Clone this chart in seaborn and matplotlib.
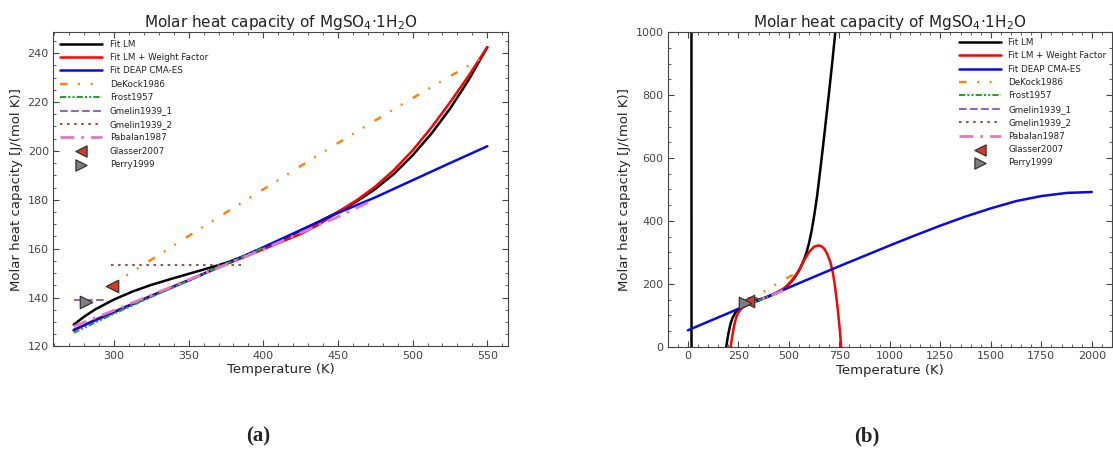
import matplotlib
matplotlib.use("Agg")
import matplotlib.pyplot as plt
from matplotlib.ticker import AutoMinorLocator, MultipleLocator
import numpy as np
import pandas as pd
import seaborn as sns

# ---------------- data ----------------
# Fit LM (Levenberg-Marquardt)
lm_T = [17, 19, 100, 185, 190, 200, 210, 220, 235, 250, 262, 273, 280, 287.5, 300,
        312.5, 325, 337.5, 350, 362.5, 375, 387.5, 400, 412.5, 425, 437.5, 450,
        462.5, 475, 487.5, 500, 512.5, 525, 537.5, 550, 562.5, 575, 587.5, 600,
        612.5, 625, 640, 655, 670, 685, 700, 715, 730, 745]
lm_cp = [3000, -3000, -700, -25, 0, 40, 70, 90, 108, 119, 124.5, 128.9, 132.2, 135.2,
         139.2, 142.5, 145.2, 147.5, 149.7, 151.9, 154.2, 157.0, 160.3, 163.8, 167.4,
         171.1, 175.0, 179.3, 184.4, 190.6, 198.2, 207.0, 217.2, 229.0, 242.4, 258.5,
         277, 300, 330, 368, 415, 480, 560, 642, 728, 815, 905, 1000, 1095]

# Fit LM + weight factor
lmw_T = [205, 212, 220, 230, 240, 250, 262, 273, 287.5, 300, 325, 350, 375, 400, 425,
         437.5, 450, 462.5, 475, 487.5, 500, 512.5, 525, 537.5, 550, 575, 600, 625,
         645, 660, 675, 690, 705, 718, 730, 742, 752, 760, 765]
lmw_cp = [-30, 0, 35, 70, 95, 108, 119, 126.5, 131.0, 134.2, 140.8, 147.2, 153.6,
          159.8, 166.0, 170.0, 175.0, 179.8, 185.4, 192.2, 200.2, 209.5, 219.8, 230.7,
          242.4, 274, 301, 318, 322, 320, 312, 295, 270, 235, 185, 120, 55, -10, -60]

# Fit DEAP CMA-ES
cma_T = [0, 100, 200, 273, 300, 325, 350, 375, 400, 425, 450, 475, 500, 525, 550,
         650, 750, 875, 1000, 1125, 1250, 1375, 1500, 1625, 1750, 1875, 2000]
cma_cp = [52, 79.5, 106.5, 126.8, 134.0, 140.6, 147.0, 153.8, 160.6, 167.6, 174.6,
          181.0, 188.0, 195.0, 201.9, 229, 256, 289, 322, 354, 385, 414, 440, 463,
          479, 489, 492]

# literature data
dekock_T = [298, 325, 350, 375, 400, 425, 450, 475, 500, 525, 545]
dekock_cp = [145.0, 155.5, 165.2, 174.8, 184.3, 193.8, 203.2, 212.5, 221.6, 230.5, 237.5]

frost_T = [273, 300, 325, 350, 375, 400]
frost_cp = [125.6, 133.4, 140.3, 147.0, 153.8, 160.4]

gmelin1_T = [273, 293]
gmelin1_cp = [139.0, 139.0]

gmelin2_T = [298, 385]
gmelin2_cp = [153.5, 153.5]

pabalan_T = [273, 300, 325, 350, 375, 400, 425, 450, 472]
pabalan_cp = [128.2, 134.8, 141.0, 147.3, 153.5, 159.8, 166.5, 173.0, 179.4]

glasser_T = [298.9]
glasser_cp = [144.9]

perry_T = [281.1]
perry_cp = [138.4]

# ---------------- styling ----------------
sns.set_style("ticks")
plt.rcParams["font.family"] = ["DejaVu Sans"]
plt.rcParams["axes.edgecolor"] = "#444444"
plt.rcParams["text.color"] = "#222222"
plt.rcParams["axes.labelcolor"] = "#222222"
plt.rcParams["xtick.color"] = "#444444"
plt.rcParams["ytick.color"] = "#444444"

TITLE = "Molar heat capacity of MgSO$_4$\u00b71H$_2$O"

fits = [
    ("Fit LM", lm_T, lm_cp, dict(color="black", lw=1.8, linestyle="-")),
    ("Fit LM + Weight Factor", lmw_T, lmw_cp, dict(color="red", lw=1.8, linestyle="-")),
    ("Fit DEAP CMA-ES", cma_T, cma_cp, dict(color="#0a0ae6", lw=1.8, linestyle="-")),
]
literature = [
    ("DeKock1986", dekock_T, dekock_cp,
     dict(color="tab:orange", lw=1.7, linestyle=(0, (3.2, 4.5, 0.8, 4.5, 0.8, 5)))),
    ("Frost1957", frost_T, frost_cp,
     dict(color="tab:green", lw=1.5, linestyle=(0, (3, 1, 1, 1, 1, 1)))),
    ("Gmelin1939_1", gmelin1_T, gmelin1_cp,
     dict(color="tab:purple", lw=1.5, linestyle="--")),
    ("Gmelin1939_2", gmelin2_T, gmelin2_cp,
     dict(color="tab:brown", lw=1.5, linestyle=(0, (1.2, 2.2)))),
    ("Pabalan1987", pabalan_T, pabalan_cp,
     dict(color="tab:pink", lw=2.0, linestyle=(0, (5, 2.5, 1, 2.5)))),
]
points = [
    ("Glasser2007", glasser_T, glasser_cp, dict(marker="<", color="#d63a26")),
    ("Perry1999", perry_T, perry_cp, dict(marker=">", color="#7f7f7f")),
]


def draw(ax, tmin=None, tmax=None):
    for name, T, cp, kw in fits:
        df = pd.DataFrame({"T": T, "cp": cp})
        if tmin is not None:
            df = df[(df["T"] >= tmin) & (df["T"] <= tmax)]
        sns.lineplot(data=df, x="T", y="cp", ax=ax, sort=False, estimator=None,
                     label=name, **kw)
    for name, T, cp, kw in literature:
        df = pd.DataFrame({"T": T, "cp": cp})
        sns.lineplot(data=df, x="T", y="cp", ax=ax, sort=False, estimator=None,
                     label=name, **kw)
    for name, T, cp, kw in points:
        sns.scatterplot(x=T, y=cp, ax=ax, s=80, marker=kw["marker"], color=kw["color"],
                        edgecolor="#333333", linewidth=0.9, label=name, zorder=5)

    ax.set_title(TITLE, fontsize=11, pad=4)
    ax.set_xlabel("Temperature (K)", fontsize=9.5, labelpad=2)
    ax.set_ylabel("Molar heat capacity [J/(mol K)]", fontsize=9.5, labelpad=3)
    ax.xaxis.set_minor_locator(AutoMinorLocator(5))
    ax.yaxis.set_minor_locator(AutoMinorLocator(4))
    ax.tick_params(which="both", direction="in", top=True, right=True)
    ax.tick_params(which="major", length=4, width=0.8, labelsize=8, pad=3)
    ax.tick_params(which="minor", length=2, width=0.6)
    for s in ax.spines.values():
        s.set_visible(True)
        s.set_linewidth(0.8)


def add_legend(ax, loc, pad):
    ax.legend(loc=loc, frameon=False, fontsize=6.3, handlelength=4.8,
              handletextpad=0.85, labelspacing=0.5, borderaxespad=pad,
              markerscale=0.9, scatterpoints=1)


fig = plt.figure(figsize=(11.13, 4.49), dpi=100)
ax_a = fig.add_axes([0.0476, 0.2283, 0.4088, 0.6998])
ax_b = fig.add_axes([0.5999, 0.2279, 0.3992, 0.7002])

# (a) measured range
draw(ax_a, 273, 550)
ax_a.set_xlim(259.15, 563.85)
ax_a.set_ylim(120, 248.5)
ax_a.xaxis.set_major_locator(MultipleLocator(50))
ax_a.yaxis.set_major_locator(MultipleLocator(20))
add_legend(ax_a, "upper left", 0.45)

# (b) extrapolated range
draw(ax_b)
ax_b.set_xlim(-100, 2100)
ax_b.set_ylim(0, 1000)
ax_b.xaxis.set_major_locator(MultipleLocator(250))
ax_b.yaxis.set_major_locator(MultipleLocator(200))
add_legend(ax_b, "upper right", 0.25)

fig.text(258 / 1113, 1 - 436 / 449, "(a)", ha="center", va="center",
         fontsize=15, family="Liberation Serif", fontweight="bold")
fig.text(867 / 1113, 1 - 436 / 449, "(b)", ha="center", va="center",
         fontsize=15, family="Liberation Serif", fontweight="bold")

fig.savefig("out.png", dpi=100)
